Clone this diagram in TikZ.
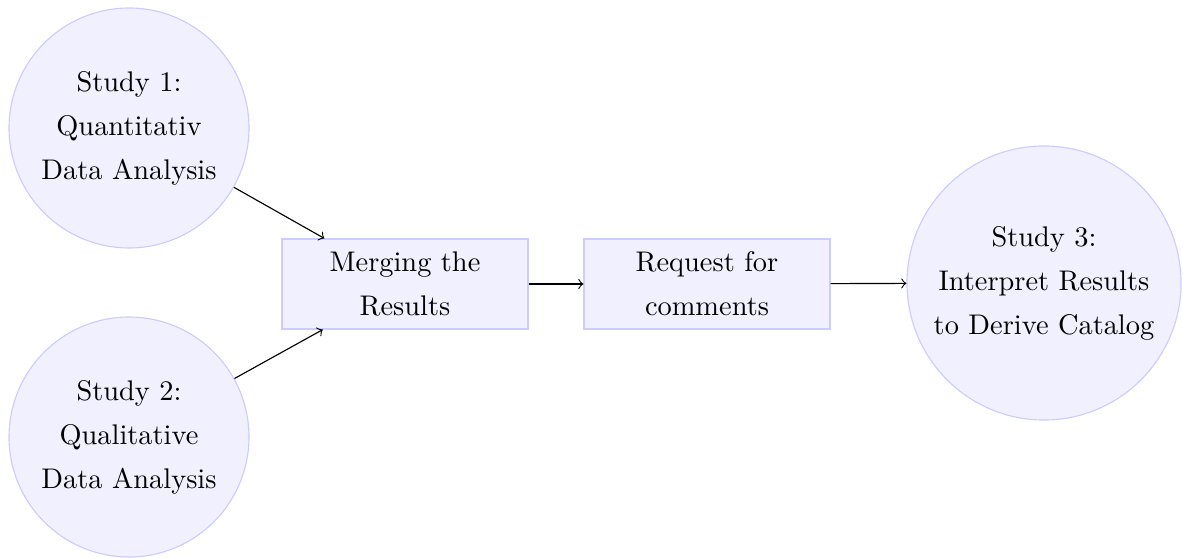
\documentclass[tikz,border=0pt]{standalone}
\usetikzlibrary{arrows}
\begin{document}
\begin{tikzpicture}[x=0.35211pt,y=-0.35211pt,
  every node/.style={font=\fontsize{10}{15.5}\selectfont, align=center, inner sep=0pt},
  study/.style={circle, draw=blue!20, fill=blue!6, line width=0.4pt},
  stepbox/.style={rectangle, draw=blue!20, fill=blue!6, line width=0.4pt, minimum width=86.6pt, minimum height=31.7pt},
  conn/.style={->, line width=0.4pt}]
\useasboundingbox (0,0) rectangle (1183,558);
\node[study, minimum size=84.5pt] (s1) at (129,128) {Study 1:\\Quantitativ\\Data Analysis};
\node[study, minimum size=84.5pt] (s2) at (129,437) {Study 2:\\Qualitative\\Data Analysis};
\node[stepbox] (merge) at (405,284) {Merging the\\Results};
\node[stepbox] (req) at (707,284) {Request for\\comments};
\node[study, minimum size=96.5pt] (s3) at (1044,283) {Study 3:\\Interpret Results\\to Derive Catalog};
\draw[conn] (s1) -- (merge);
\draw[conn] (s2) -- (merge);
\draw[conn] (merge) -- (req);
\draw[conn] (req) -- (s3);
\end{tikzpicture}
\end{document}
